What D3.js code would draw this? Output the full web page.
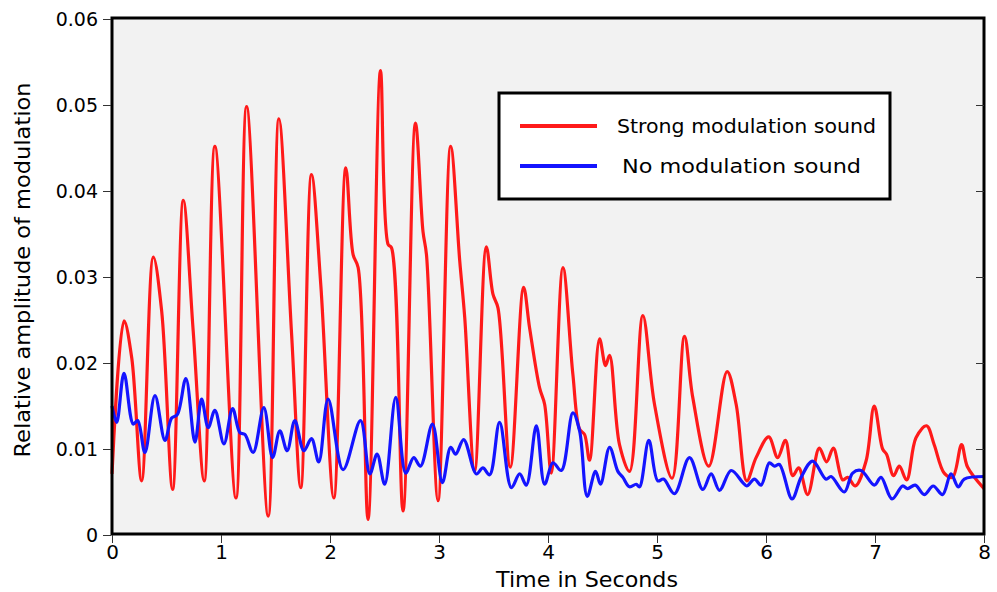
<!DOCTYPE html>
<html lang="en">
<head>
<meta charset="UTF-8">
<title>Modulation</title>
<style>
  body { margin: 0; background: #fff; }
  text { font-family: "DejaVu Sans", "Liberation Sans", sans-serif; fill: #000; }
</style>
</head>
<body>
<script src="https://cdn.jsdelivr.net/npm/d3@7"></script>
<script>
// time (s) and amplitude, at the turning points of each curve
var strongTime = [0.00, 0.110, 0.181, 0.272, 0.379, 0.456, 0.556, 0.654, 0.745, 0.846,
  0.944, 1.137, 1.235, 1.433, 1.531, 1.647, 1.732, 1.830, 1.916, 2.035,
  2.145, 2.212, 2.258, 2.349, 2.463, 2.533, 2.564, 2.670, 2.784, 2.853,
  2.885, 2.991, 3.107, 3.190, 3.236, 3.327, 3.434, 3.495, 3.541, 3.654,
  3.776, 3.831, 3.923, 3.969, 4.030, 4.137, 4.228, 4.290, 4.335, 4.381,
  4.473, 4.528, 4.565, 4.656, 4.748, 4.870, 4.977, 5.139, 5.252, 5.328,
  5.475, 5.643, 5.726, 5.823, 5.909, 6.025, 6.107, 6.178, 6.245, 6.300,
  6.382, 6.489, 6.556, 6.618, 6.703, 6.749, 6.819, 6.918, 6.993, 7.070,
  7.106, 7.170, 7.223, 7.290, 7.376, 7.473, 7.543, 7.635, 7.711, 7.794,
  7.849, 8.00];
var strongValue = [0.0071, 0.0249, 0.0206, 0.0063, 0.0323, 0.0260, 0.0053, 0.0389, 0.0237, 0.0063,
  0.0452, 0.0043, 0.0498, 0.0022, 0.0484, 0.0235, 0.0055, 0.0419, 0.0290, 0.0043,
  0.0427, 0.0326, 0.0311, 0.0018, 0.0540, 0.0338, 0.0334, 0.0028, 0.0479, 0.0353,
  0.0326, 0.0040, 0.0452, 0.0319, 0.0253, 0.0074, 0.0335, 0.0280, 0.0264, 0.0079,
  0.0288, 0.0241, 0.0171, 0.0152, 0.0072, 0.0311, 0.0187, 0.0123, 0.0117, 0.0087,
  0.0228, 0.0197, 0.0209, 0.0105, 0.0074, 0.0255, 0.0152, 0.0066, 0.0231, 0.0160,
  0.0080, 0.0190, 0.0152, 0.0063, 0.0090, 0.0114, 0.0090, 0.0110, 0.0069, 0.0078,
  0.0047, 0.0101, 0.0085, 0.0101, 0.0064, 0.0067, 0.0057, 0.0086, 0.0150, 0.0100,
  0.0094, 0.0069, 0.0080, 0.0064, 0.0113, 0.0127, 0.0105, 0.0072, 0.0067, 0.0105,
  0.0079, 0.0054];

var noneTime = [0.00, 0.043, 0.110, 0.195, 0.236, 0.302, 0.394, 0.486, 0.547, 0.599,
  0.678, 0.761, 0.822, 0.883, 0.944, 1.027, 1.106, 1.173, 1.219, 1.295,
  1.393, 1.473, 1.540, 1.607, 1.677, 1.760, 1.830, 1.897, 1.983, 2.120,
  2.280, 2.365, 2.432, 2.502, 2.603, 2.695, 2.768, 2.830, 2.940, 3.031,
  3.107, 3.153, 3.226, 3.343, 3.403, 3.465, 3.556, 3.664, 3.740, 3.801,
  3.893, 3.969, 4.045, 4.122, 4.228, 4.290, 4.360, 4.436, 4.482, 4.565,
  4.641, 4.687, 4.748, 4.809, 4.840, 4.925, 5.007, 5.060, 5.160, 5.298,
  5.420, 5.497, 5.573, 5.680, 5.787, 5.823, 5.894, 5.955, 6.031, 6.077,
  6.123, 6.239, 6.322, 6.428, 6.551, 6.597, 6.718, 6.795, 6.872, 6.994,
  7.055, 7.156, 7.253, 7.299, 7.369, 7.452, 7.534, 7.620, 7.697, 7.764,
  7.819, 8.00];
var noneValue = [0.0150, 0.0131, 0.0188, 0.0129, 0.0133, 0.0096, 0.0162, 0.0110, 0.0136, 0.0140,
  0.0182, 0.0108, 0.0158, 0.0125, 0.0145, 0.0106, 0.0147, 0.0119, 0.0117, 0.0096,
  0.0148, 0.0090, 0.0121, 0.0098, 0.0133, 0.0098, 0.0112, 0.0085, 0.0158, 0.0076,
  0.0133, 0.0071, 0.0094, 0.0059, 0.0160, 0.0072, 0.0090, 0.0080, 0.0129, 0.0061,
  0.0102, 0.0094, 0.0111, 0.0071, 0.0078, 0.0070, 0.0131, 0.0055, 0.0071, 0.0058,
  0.0127, 0.0059, 0.0084, 0.0075, 0.0142, 0.0121, 0.0045, 0.0074, 0.0059, 0.0102,
  0.0074, 0.0067, 0.0056, 0.0059, 0.0056, 0.0110, 0.0063, 0.0065, 0.0048, 0.0090,
  0.0053, 0.0071, 0.0052, 0.0075, 0.0061, 0.0057, 0.0065, 0.0058, 0.0084, 0.0080,
  0.0082, 0.0042, 0.0067, 0.0086, 0.0065, 0.0068, 0.0050, 0.0072, 0.0075, 0.0058,
  0.0067, 0.0042, 0.0057, 0.0054, 0.0058, 0.0047, 0.0057, 0.0047, 0.0071, 0.0056,
  0.0065, 0.0068];

var xTicks = [0, 1, 2, 3, 4, 5, 6, 7, 8];
var yTicks = [0, 0.01, 0.02, 0.03, 0.04, 0.05, 0.06];
var seriesNames = ["Strong modulation sound", "No modulation sound"];
var seriesColors = ["#ff1a1a", "#1414ff"];

(function() {
  var width = 997, height = 592;
  var left = 112, right = 984, top = 18, bottom = 534;

  var x = d3.scaleLinear().domain([0, 8]).range([left, right]);
  var y = d3.scaleLinear().domain([0, 0.06]).range([535, 19]);

  var svg = d3.select("body").append("svg")
    .attr("width", width)
    .attr("height", height);

  svg.append("rect")
    .attr("x", left).attr("y", top)
    .attr("width", right - left).attr("height", bottom - top)
    .attr("fill", "#f2f2f2");

  var line = d3.line()
    .x(function(d) { return x(d[0]); })
    .y(function(d) { return y(d[1]); })
    .curve(d3.curveCatmullRom.alpha(0.5));

  var series = [d3.zip(strongTime, strongValue), d3.zip(noneTime, noneValue)];
  series.forEach(function(s, i) {
    svg.append("path")
      .attr("d", line(s))
      .attr("fill", "none")
      .attr("stroke", seriesColors[i])
      .attr("stroke-width", 3.2)
      .attr("stroke-linejoin", "round");
  });

  // frame
  svg.append("rect")
    .attr("x", left).attr("y", top)
    .attr("width", right - left).attr("height", bottom - top)
    .attr("fill", "none")
    .attr("stroke", "#000")
    .attr("stroke-width", 3);

  var yAxis = svg.append("g")
    .attr("transform", "translate(" + (left - 1) + ",0)")
    .call(d3.axisLeft(y).tickValues(yTicks).tickSize(8).tickPadding(5)
      .tickFormat(function(d) { return d === 0 ? "0" : d3.format(".2f")(d); }));
  yAxis.select(".domain").remove();
  yAxis.selectAll(".tick line").attr("stroke", "#333");
  yAxis.selectAll("text").style("font-size", "19px").attr("fill", "#000");

  var yRight = svg.append("g")
    .attr("transform", "translate(" + right + ",0)")
    .call(d3.axisLeft(y).tickValues(yTicks.slice(1, 6)).tickSize(8).tickFormat(""));
  yRight.select(".domain").remove();
  yRight.selectAll(".tick line").attr("stroke", "#333");

  var xAxis = svg.append("g")
    .attr("transform", "translate(0," + (bottom + 1) + ")")
    .call(d3.axisBottom(x).tickValues(xTicks).tickSize(8).tickPadding(2)
      .tickFormat(d3.format("d")));
  xAxis.select(".domain").remove();
  xAxis.selectAll(".tick line").attr("stroke", "#333");
  xAxis.selectAll("text").style("font-size", "20px").attr("fill", "#000");

  svg.append("text")
    .attr("x", 587).attr("y", 587)
    .attr("text-anchor", "middle")
    .attr("textLength", 182).attr("lengthAdjust", "spacingAndGlyphs")
    .style("font-size", "21px")
    .text("Time in Seconds");

  svg.append("text")
    .attr("transform", "translate(30,270) rotate(-90)")
    .attr("text-anchor", "middle")
    .attr("textLength", 375).attr("lengthAdjust", "spacingAndGlyphs")
    .style("font-size", "21px")
    .text("Relative amplitude of modulation");

  // legend
  var lg = svg.append("g");
  lg.append("rect")
    .attr("x", 499).attr("y", 93)
    .attr("width", 391).attr("height", 106)
    .attr("fill", "#fff")
    .attr("stroke", "#000")
    .attr("stroke-width", 3);
  var legendY = [126, 166];
  var legendX = [617, 622];
  var legendLen = [259, 239];
  seriesNames.forEach(function(name, i) {
    lg.append("line")
      .attr("x1", 520).attr("x2", 597)
      .attr("y1", legendY[i]).attr("y2", legendY[i])
      .attr("stroke", seriesColors[i])
      .attr("stroke-width", 4);
    lg.append("text")
      .attr("x", legendX[i]).attr("y", legendY[i] + 7)
      .attr("textLength", legendLen[i]).attr("lengthAdjust", "spacingAndGlyphs")
      .style("font-size", "20px")
      .text(name);
  });
})();
</script>
</body>
</html>
